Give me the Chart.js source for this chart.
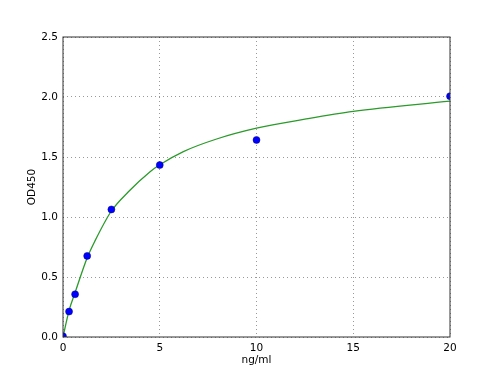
<!DOCTYPE html>
<html>
<head>
<meta charset="utf-8">
<script src="https://cdn.jsdelivr.net/npm/chart.js@4/dist/chart.umd.min.js"></script>
<style>
    html, body { margin: 0; padding: 0; background: #fff; }
    #wrap { width: 500px; height: 375px; }
</style>
</head>
<body>
<div id="wrap"><canvas id="curveChart" width="500" height="375"></canvas></div>
<script>
// standards (ng/ml) and measured OD450
const concentrations = [0, 0.3125, 0.625, 1.25, 2.5, 5, 10, 20];
const odValues = [0.006, 0.212, 0.356, 0.676, 1.063, 1.433, 1.642, 2.007];

// fitted curve
const fitX = [0, 0.3125, 0.625, 1.25, 1.65, 2.5, 3.38, 4.5, 5, 6.22, 7.94, 10, 12.5, 15, 20];
const fitY = [0, 0.22, 0.37, 0.66, 0.80, 1.05, 1.21, 1.377, 1.435, 1.545, 1.65, 1.74, 1.815, 1.88, 1.965];

const xTicks = [0, 5, 10, 15, 20];
const yTicks = [0, 0.5, 1.0, 1.5, 2.0, 2.5];

const tickFont = { family: 'DejaVu Sans', size: 10.5 };
const gridStyle = {
    color: 'rgba(0, 0, 0, 0.4)',
    lineWidth: 1,
    tickLength: 0,
};

// matplotlib-like frame around the plot area
const framePlugin = {
    id: 'frame',
    afterDatasetsDraw(chart) {
        const { ctx, chartArea } = chart;
        ctx.save();
        ctx.strokeStyle = '#333';
        ctx.lineWidth = 1;
        ctx.strokeRect(chartArea.left, chartArea.top, chartArea.right - chartArea.left, chartArea.bottom - chartArea.top);
        ctx.restore();
    },
};

new Chart(document.getElementById('curveChart'), {
    type: 'scatter',
    data: {
        datasets: [
            {
                label: 'fit',
                data: fitX.map((x, i) => ({ x, y: fitY[i] })),
                showLine: true,
                borderColor: '#2a9a2a',
                borderWidth: 1.3,
                pointRadius: 0,
                cubicInterpolationMode: 'monotone',
                order: 2,
            },
            {
                label: 'standards',
                data: concentrations.map((x, i) => ({ x, y: odValues[i] })),
                backgroundColor: '#0000ff',
                borderColor: '#00008b',
                borderWidth: 0.5,
                pointRadius: 3.5,
                order: 1,
            },
        ],
    },
    plugins: [framePlugin],
    options: {
        responsive: false,
        animation: false,
        layout: {
            padding: { left: 0, top: 37, right: 50, bottom: 0 },
        },
        plugins: {
            legend: { display: false },
            tooltip: { enabled: false },
        },
        scales: {
            x: {
                type: 'linear',
                min: 0,
                max: 20,
                afterBuildTicks: (scale) => { scale.ticks = xTicks.map((v) => ({ value: v })); },
                afterFit: (scale) => { scale.height = 38; },
                ticks: {
                    color: '#000',
                    font: tickFont,
                    padding: 5,
                    maxRotation: 0,
                },
                grid: { ...gridStyle },
                border: { display: false, dash: [1, 3] },
                title: {
                    display: true,
                    text: 'ng/ml',
                    color: '#000',
                    font: tickFont,
                    padding: { top: 0, bottom: 8 },
                },
            },
            y: {
                type: 'linear',
                min: 0,
                max: 2.5,
                afterBuildTicks: (scale) => { scale.ticks = yTicks.map((v) => ({ value: v })); },
                afterFit: (scale) => { scale.width = 63; },
                ticks: {
                    color: '#000',
                    font: tickFont,
                    padding: 5,
                    callback: (v) => v.toFixed(1),
                },
                grid: { ...gridStyle },
                border: { display: false, dash: [1, 3] },
                title: {
                    display: true,
                    text: 'OD450',
                    color: '#000',
                    font: tickFont,
                    padding: { top: 26, bottom: 0 },
                },
            },
        },
    },
});
</script>
</body>
</html>
